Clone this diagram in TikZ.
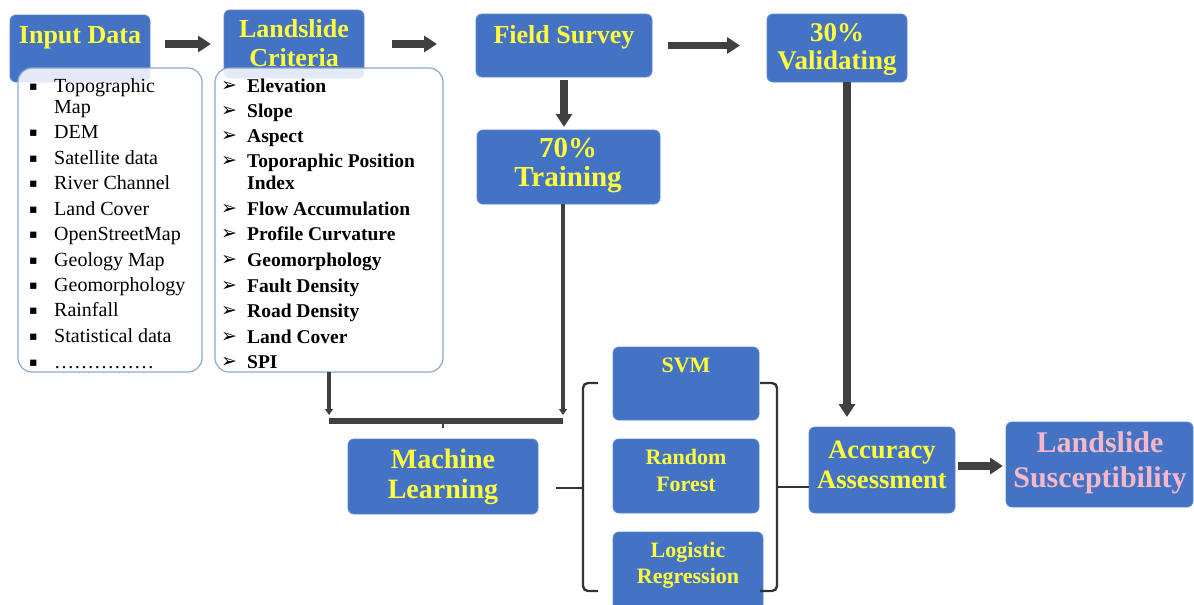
\documentclass[tikz,border=0pt]{standalone}
\usepackage{fontspec}
\setmainfont{Liberation Serif}
\newfontfamily\symfont{DejaVu Sans}
\usetikzlibrary{arrows.meta}
\definecolor{boxblue}{HTML}{4472C4}
\definecolor{boxedge}{HTML}{5A86D2}
\definecolor{titleyellow}{HTML}{FFFF3C}
\definecolor{resultpink}{HTML}{F5B8C8}
\definecolor{listedge}{HTML}{8FA8CC}
\definecolor{flowgray}{HTML}{404040}
\begin{document}
\begin{tikzpicture}[x=1pt,y=-1pt,
  box/.style={draw=boxedge, line width=0.8pt, fill=boxblue, rounded corners=6pt,
    anchor=north west, inner sep=0pt, outer sep=0pt},
  listbox/.style={draw=listedge, line width=1.2pt, fill=white, fill opacity=0.85,
    rounded corners=14pt, anchor=north west, inner sep=0pt, outer sep=0pt},
  title/.style={anchor=base, text=titleyellow, inner sep=0pt,
    font=\bfseries\fontsize{#1}{#1}\selectfont},
  title/.default=26,
  result/.style={title=#1, text=resultpink},
  plainitem/.style={anchor=base west, inner sep=0pt, font=\fontsize{20}{20}\selectfont},
  bolditem/.style={anchor=base west, inner sep=0pt, font=\bfseries\fontsize{19.5}{20}\selectfont},
  sqbullet/.style={anchor=base west, inner sep=0pt, font=\symfont\fontsize{12.5}{12.5}\selectfont},
  arrbullet/.style={anchor=base west, inner sep=0pt, font=\symfont\fontsize{19}{19}\selectfont},
  bigarrow/.style={draw=flowgray, line width=7.5pt, -{Triangle[width=16pt,length=13pt]}},
  thinarrow/.style={draw=flowgray, line width=4pt, -{Triangle[width=8pt,length=6pt]}},
  brace/.style={draw=black!80, line width=2.4pt, rounded corners=5pt},
]
\useasboundingbox (0,0) rectangle (1194,605);

% ---------- top row: data, criteria, survey ----------
\node[box, minimum width=140pt, minimum height=67pt] (input) at (10,15) {};
\node[title] (inputT) at (80,43) {Input Data};

\node[box, minimum width=140pt, minimum height=68pt] (crit) at (224,10) {};
\node[title] (critT1) at (294,37) {Landslide};
\node[title] (critT2) at (294,66) {Criteria};

\node[box, minimum width=176pt, minimum height=63pt] (fs) at (476,14) {};
\node[title] (fsT) at (564,43) {Field Survey};

\node[box, minimum width=140pt, minimum height=68pt] (val) at (767,14) {};
\node[title=27] (valT1) at (837,41) {30\%};
\node[title=27] (valT2) at (837,69) {Validating};

\node[box, minimum width=183pt, minimum height=74pt] (train) at (477,130) {};
\node[title=29] (trainT1) at (568,157) {70\%};
\node[title=29] (trainT2) at (568,186) {Training};

% ---------- list panels ----------
\node[listbox, minimum width=184pt, minimum height=304pt] (datalist) at (18,68) {};
\node[listbox, minimum width=228pt, minimum height=304pt] (critlist) at (215,68) {};

\foreach \txt/\bl/\b [count=\i] in {Topographic/92/1, Map/113/0, DEM/138/1,
    Satellite data/164/1, River Channel/189/1, Land Cover/215/1, OpenStreetMap/240/1,
    Geology Map/266/1, Geomorphology/291/1, Rainfall/316/1, Statistical data/342/1,
    ……………/368/1}{
  \node[plainitem] (d\i) at (54,\bl) {\txt};
  \ifnum\b=1 \node[sqbullet] (db\i) at (29,\bl-2) {▪}; \fi
}

\foreach \txt/\bl/\b [count=\i] in {Elevation/92/1, Slope/117/1, Aspect/142/1,
    Toporaphic Position/167/1, Index/189/0, Flow Accumulation/215/1,
    Profile Curvature/240/1, Geomorphology/266/1, Fault Density/292/1,
    Road Density/317/1, Land Cover/343/1, SPI/368/1}{
  \node[bolditem] (c\i) at (247,\bl) {\txt};
  \ifnum\b=1 \node[arrbullet] (cb\i) at (221,\bl-1) {➢}; \fi
}

% ---------- models ----------
\node[box, minimum width=190pt, minimum height=75pt] (ml) at (348,439) {};
\node[title=28] (mlT1) at (443,468) {Machine};
\node[title=28] (mlT2) at (443,498) {Learning};

\node[box, minimum width=146pt, minimum height=73pt] (svm) at (613,347) {};
\node[title=22] (svmT) at (686,372) {SVM};

\node[box, minimum width=146pt, minimum height=74pt] (rf) at (613,439) {};
\node[title=22] (rfT1) at (686,464) {Random};
\node[title=22] (rfT2) at (686,491) {Forest};

\node[box, minimum width=150pt, minimum height=80pt] (lr) at (613,532) {};
\node[title=22] (lrT1) at (688,557) {Logistic};
\node[title=22] (lrT2) at (688,583) {Regression};

\node[box, minimum width=146pt, minimum height=86pt] (acc) at (809,427) {};
\node[title=26.5] (accT1) at (882,458) {Accuracy};
\node[title=26.5] (accT2) at (882,488) {Assessment};

\node[box, minimum width=187pt, minimum height=85pt] (ls) at (1006,422) {};
\node[result=30] (lsT1) at (1100,452) {Landslide};
\node[result=30] (lsT2) at (1100,487) {Susceptibility};

% ---------- flow arrows ----------
\draw[bigarrow] ([xshift=15pt]input.east |- crit.west) -- ([xshift=-13pt]crit.west);
\draw[bigarrow] ([xshift=28pt]crit.east) -- ([xshift=-39pt]fs.west |- crit.east);
\draw[bigarrow] ([xshift=16pt]fs.east) -- ([xshift=-27pt]val.west |- fs.east);
\draw[bigarrow] ([yshift=-3pt]fs.south) -- ([yshift=3pt]fs.south |- train.north);
\draw[bigarrow] ([xshift=10pt]val.south) -- ([xshift=10pt,yshift=10pt]val.south |- acc.north);
\draw[bigarrow] ([xshift=3pt]acc.east |- 0,466) -- ([xshift=-3pt]ls.west |- 0,466);

% ---------- merge of criteria and training data ----------
\coordinate (barL) at (329,421);
\coordinate (barR) at (563,421);
\draw[thinarrow] (critlist.south) -- ([yshift=6pt]critlist.south |- barL);
\draw[thinarrow] ([xshift=-5.5pt]train.south) -- ([xshift=-5.5pt,yshift=6pt]train.south |- barR);
\draw[draw=flowgray, line width=6pt] (barL) -- (barR);
\draw[draw=flowgray, line width=2pt] (ml.north |- barL) -- ++(0,7);

% ---------- braces around the models ----------
\draw[brace] (598,383) -- (583,383) -- (583,591) -- (598,591);
\draw[brace] ([xshift=18pt]ml.east |- 0,488) -- (583,488);
\draw[brace] (760,383) -- (777,383) -- (777,591) -- (760,591);
\draw[brace] (777,487) -- (acc.west |- 0,487);
\end{tikzpicture}
\end{document}
